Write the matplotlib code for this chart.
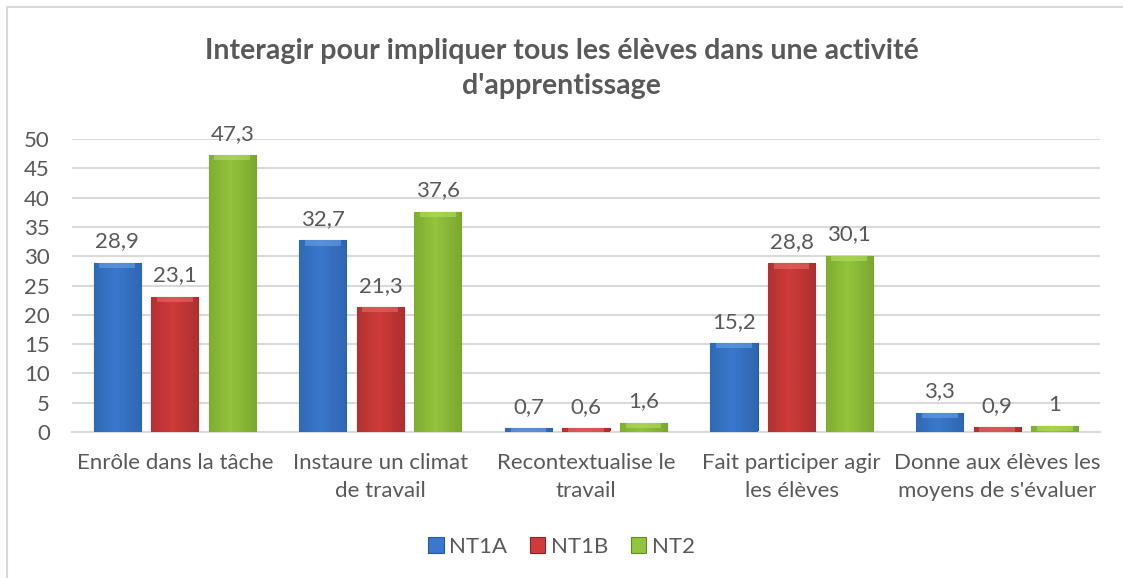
import matplotlib

matplotlib.use("Agg")
import matplotlib.pyplot as plt
import numpy as np
from matplotlib.patches import Rectangle

plt.rcParams["font.family"] = ["Lato", "DejaVu Sans"]

TITLE = "Interagir pour impliquer tous les élèves dans une activité\nd'apprentissage"
categories = [
    "Enrôle dans la tâche",
    "Instaure un climat\nde travail",
    "Recontextualise le\ntravail",
    "Fait participer agir\nles élèves",
    "Donne aux élèves les\nmoyens de s'évaluer",
]
series_names = ["NT1A", "NT1B", "NT2"]
nt1a = [28.9, 32.7, 0.7, 15.2, 3.3]
nt1b = [23.1, 21.3, 0.6, 28.8, 0.9]
nt2 = [47.3, 37.6, 1.6, 30.1, 1.0]

face = ["#3b78cc", "#cf3b3b", "#93c43d"]
edge = ["#285a9c", "#8e2424", "#5f8a22"]
light = ["#6aa0e6", "#e86a6a", "#b6dd62"]
dark = ["#2c63ad", "#a92d2d", "#76a42c"]
TXT = "#595959"
GRID = "#d9d9d9"
FS = 16


def fmt(v):
    return f"{v:g}".replace(".", ",")


def bevel(ax, bar, i):
    # horizontal shading to fake the Excel bevel look
    x0, y0 = bar.get_x(), bar.get_y()
    w, h = bar.get_width(), bar.get_height()
    grad = np.linspace(0, 1, 64)
    prof = np.clip(1 - np.abs(grad - 0.45) * 1.6, 0, 1)
    c1 = np.array(matplotlib.colors.to_rgb(dark[i]))
    c2 = np.array(matplotlib.colors.to_rgb(face[i]))
    img = c1[None, :] + (c2 - c1)[None, :] * prof[:, None]
    im = ax.imshow(img[None, :, :], extent=(x0, x0 + w, y0, y0 + h),
                   aspect="auto", zorder=3, interpolation="bilinear")
    im.set_clip_path(bar)
    top = min(h, 0.9)
    ax.add_patch(Rectangle((x0 + w * 0.12, y0 + h - top), w * 0.76, top,
                           facecolor=light[i], edgecolor="none", alpha=0.6, zorder=4))


fig = plt.figure(figsize=(11.23, 5.78), dpi=100)
ax = fig.add_axes([0.0641, 0.2526, 0.9154, 0.5069])

x = np.arange(len(categories))
width = 0.229
offs = [-0.28, 0.0, 0.28]
for i, vals in enumerate([nt1a, nt1b, nt2]):
    bars = ax.bar(x + offs[i], vals, width, color=face[i], edgecolor=edge[i],
                  linewidth=0.8, zorder=2, label=series_names[i])
    for b, v in zip(bars, vals):
        bevel(ax, b, i)
        ax.annotate(fmt(v), (b.get_x() + b.get_width() / 2, v), xytext=(0, 8),
                    textcoords="offset points", ha="center", va="bottom",
                    fontsize=FS, color=TXT)

ax.set_xlim(-0.5, len(categories) - 0.5)
ax.set_ylim(0, 50)
ax.set_yticks(np.arange(0, 51, 5))
ax.yaxis.grid(True, color=GRID, linewidth=1.5, zorder=0)
ax.set_axisbelow(True)
for s in ["top", "right", "left"]:
    ax.spines[s].set_visible(False)
ax.spines["bottom"].set_color(GRID)
ax.spines["bottom"].set_linewidth(1.5)
ax.tick_params(length=0, labelsize=FS, colors=TXT)
ax.tick_params(axis="y", pad=16)
ax.tick_params(axis="x", pad=15)
ax.set_xticks(x)
ax.set_xticklabels(categories, va="top", linespacing=1.5)

fig.text(0.5, 0.935, TITLE, ha="center", va="top", fontsize=20.5, fontweight="bold",
         color=TXT, linespacing=1.45)

leg = fig.legend(loc="center", bbox_to_anchor=(0.5, 1 - 547 / 578), ncol=3, frameon=False,
                 fontsize=FS, handlelength=0.7, handleheight=0.7, columnspacing=1.0,
                 handletextpad=0.25)
for t in leg.get_texts():
    t.set_color(TXT)

fig.patches.append(Rectangle((7 / 1123, -0.1), 1.2, 1.1 - 7 / 578,
                             transform=fig.transFigure, fill=False,
                             edgecolor=GRID, linewidth=1.5))

fig.savefig("out.png", dpi=100)
